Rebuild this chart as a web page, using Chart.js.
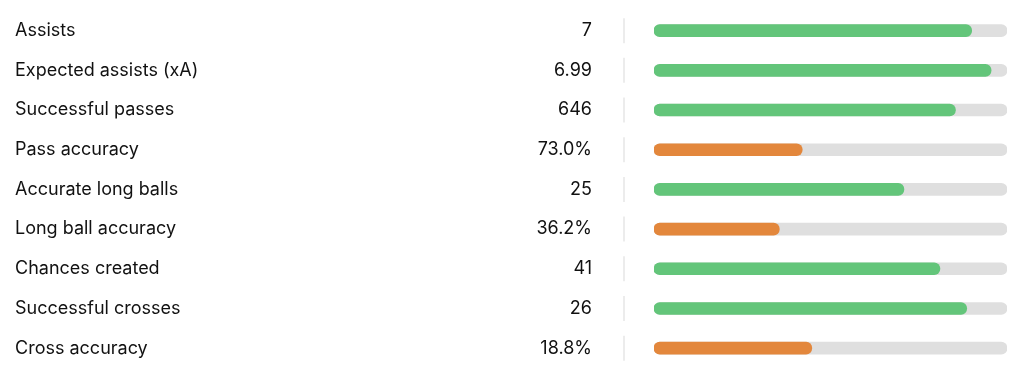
<!DOCTYPE html>
<html>
<head>
<meta charset="utf-8">
<script src="https://cdn.jsdelivr.net/npm/chart.js@4/dist/chart.umd.min.js"></script>
<style>
  html, body { margin: 0; padding: 0; background: #ffffff; }
  #wrap { width: 1024px; height: 383px; position: relative; }
</style>
</head>
<body>
<div id="wrap"><canvas id="c"></canvas></div>
<script>
const categories = ['Assists', 'Expected assists (xA)', 'Successful passes', 'Pass accuracy', 'Accurate long balls', 'Long ball accuracy', 'Chances created', 'Successful crosses', 'Cross accuracy'];
const valueLabels = ['7', '6.99', '646', '73.0%', '25', '36.2%', '41', '26', '18.8%'];
const percentiles = [90, 95.5, 85.4, 42, 70.8, 35.5, 81, 88.6, 44.7];
const trackValues = [100, 100, 100, 100, 100, 100, 100, 100, 100];

const GREEN = '#63c57a';
const ORANGE = '#e3873c';
const TRACK = '#dfdfdf';
const TEXT = '#111111';
const FONT = 'Inter, "Noto Sans", sans-serif';

const barColors = percentiles.map(p => p >= 50 ? GREEN : ORANGE);

const valuePlugin = {
  id: 'valueColumn',
  afterDraw(chart) {
    const ctx = chart.ctx;
    const y = chart.scales.y;
    ctx.save();
    categories.forEach((c, i) => {
      const py = y.getPixelForValue(i);
      ctx.font = '18px ' + FONT;
      ctx.fillStyle = TEXT;
      ctx.textAlign = 'right';
      ctx.textBaseline = 'middle';
      ctx.fillText(valueLabels[i], 592, py);
      ctx.strokeStyle = '#e6e6e6';
      ctx.lineWidth = 1.5;
      ctx.beginPath();
      ctx.moveTo(624, py - 12.5);
      ctx.lineTo(624, py + 12.5);
      ctx.stroke();
    });
    ctx.restore();
  }
};

new Chart(document.getElementById('c'), {
  type: 'bar',
  data: {
    labels: categories,
    datasets: [
      {
        data: percentiles,
        backgroundColor: barColors,
        borderRadius: 6,
        borderSkipped: false,
        barThickness: 12,
        grouped: false
      },
      {
        data: trackValues,
        backgroundColor: TRACK,
        borderRadius: 6,
        borderSkipped: false,
        barThickness: 12,
        grouped: false
      }
    ]
  },
  options: {
    indexAxis: 'y',
    responsive: true,
    maintainAspectRatio: false,
    animation: false,
    events: [],
    layout: { padding: { left: 15, right: 17, top: 10, bottom: 15 } },
    plugins: { legend: { display: false }, tooltip: { enabled: false } },
    scales: {
      x: {
        display: false,
        min: 0,
        max: 100
      },
      y: {
        grid: { display: false },
        border: { display: false },
        ticks: {
          crossAlign: 'far',
          color: TEXT,
          font: { family: FONT, size: 18 },
          padding: 0
        },
        afterFit(scale) { scale.width = 639; }
      }
    }
  },
  plugins: [valuePlugin]
});
</script>
</body>
</html>
